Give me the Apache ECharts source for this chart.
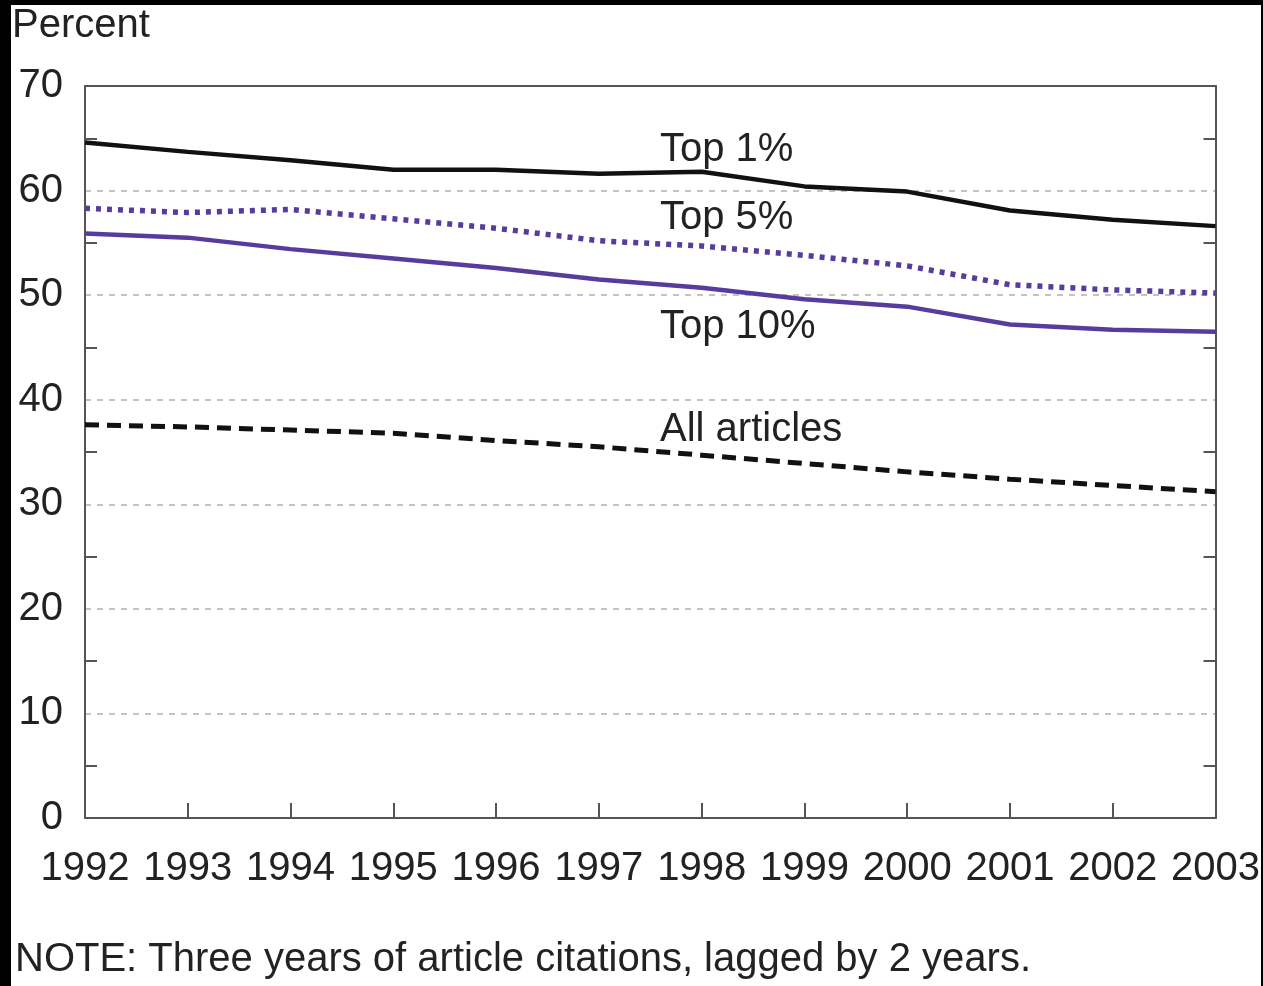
<!DOCTYPE html>
<html>
<head>
<meta charset="utf-8">
<script src="https://cdn.jsdelivr.net/npm/echarts@6/dist/echarts.min.js"></script>
<style>
  html, body { margin: 0; padding: 0; background: #000; }
  #panel { position: absolute; left: 11px; top: 5px; width: 1250px; height: 981px; background: #fff; }
  #chart { position: absolute; left: 0; top: 0; width: 1263px; height: 986px; }
</style>
</head>
<body>
<div id="panel"></div>
<div id="chart"></div>
<script>
const years = ['1992','1993','1994','1995','1996','1997','1998','1999','2000','2001','2002','2003'];
const top1 = [64.6, 63.7, 62.9, 62.0, 62.0, 61.6, 61.8, 60.4, 59.9, 58.1, 57.2, 56.6];
const top5 = [58.3, 57.9, 58.2, 57.3, 56.4, 55.2, 54.7, 53.8, 52.8, 51.0, 50.5, 50.2];
const top10 = [55.9, 55.5, 54.4, 53.5, 52.6, 51.5, 50.7, 49.6, 48.9, 47.2, 46.7, 46.5];
const allArticles = [37.6, 37.4, 37.1, 36.8, 36.1, 35.5, 34.7, 33.9, 33.1, 32.4, 31.8, 31.2];
const yTicks = { min: 0, max: 70, interval: 10 };
const seriesLabels = ['Top 1%', 'Top 5%', 'Top 10%', 'All articles'];

const FONT = 'Liberation Sans, Arial, sans-serif';
const FS = 40;
const TXT = '#222';
const AXIS = '#555';
const PURPLE = '#573c9e';

const chart = echarts.init(document.getElementById('chart'));
chart.setOption({
  backgroundColor: 'transparent',
  animation: false,
  grid: { left: 85, right: 46, top: 86, bottom: 168, containLabel: false },
  xAxis: [
    {
      type: 'category', data: years, boundaryGap: false, position: 'bottom',
      axisLine: { show: true, onZero: false, lineStyle: { color: AXIS, width: 2 } },
      axisTick: { show: true, inside: true, length: 15, lineStyle: { color: AXIS, width: 2 } },
      axisLabel: { color: TXT, fontFamily: FONT, fontSize: FS, margin: 31, interval: 0 },
      splitLine: { show: false }
    },
    {
      type: 'category', data: years, boundaryGap: false, position: 'top',
      axisLine: { show: true, onZero: false, lineStyle: { color: AXIS, width: 2 } },
      axisTick: { show: false }, axisLabel: { show: false }, splitLine: { show: false }
    }
  ],
  yAxis: [
    {
      type: 'value', min: yTicks.min, max: yTicks.max, interval: yTicks.interval, position: 'left',
      axisLine: { show: true, onZero: false, lineStyle: { color: AXIS, width: 2 } },
      axisTick: { show: false, inside: true },
      minorTick: { show: true, splitNumber: 2, length: 12, lineStyle: { color: AXIS, width: 2 } },
      axisLabel: { color: TXT, fontFamily: FONT, fontSize: FS, margin: 22 },
      splitLine: { show: true, showMinLine: false, showMaxLine: false, lineStyle: { color: '#b0b0b0', width: 1.5, type: [6, 6] } }
    },
    {
      type: 'value', min: yTicks.min, max: yTicks.max, interval: yTicks.interval, position: 'right',
      axisLine: { show: true, onZero: false, lineStyle: { color: AXIS, width: 2 } },
      axisTick: { show: false, inside: true },
      minorTick: { show: true, splitNumber: 2, length: 12, lineStyle: { color: AXIS, width: 2 } },
      axisLabel: { show: false }, splitLine: { show: false }
    }
  ],
  series: [
    { name: seriesLabels[0], type: 'line', data: top1, symbol: 'none', lineStyle: { color: '#111', width: 4.5 } },
    { name: seriesLabels[1], type: 'line', data: top5, symbol: 'none', lineStyle: { color: PURPLE, width: 5.5, type: [5, 6] } },
    { name: seriesLabels[2], type: 'line', data: top10, symbol: 'none', lineStyle: { color: PURPLE, width: 4.5 } },
    { name: seriesLabels[3], type: 'line', data: allArticles, symbol: 'none', lineStyle: { color: '#111', width: 5, type: [14, 8] } }
  ],
  graphic: [
    { type: 'text', left: 12, top: 6, style: { text: 'Percent', fill: TXT, font: FS + 'px ' + FONT } },
    { type: 'text', left: 660, top: 130, style: { text: seriesLabels[0], fill: TXT, font: FS + 'px ' + FONT } },
    { type: 'text', left: 660, top: 198, style: { text: seriesLabels[1], fill: TXT, font: FS + 'px ' + FONT } },
    { type: 'text', left: 660, top: 307, style: { text: seriesLabels[2], fill: TXT, font: FS + 'px ' + FONT } },
    { type: 'text', left: 660, top: 410, style: { text: seriesLabels[3], fill: TXT, font: FS + 'px ' + FONT } },
    { type: 'text', left: 15, top: 940, style: { text: 'NOTE: Three years of article citations, lagged by 2 years.', fill: TXT, font: FS + 'px ' + FONT } }
  ]
});
</script>
</body>
</html>
